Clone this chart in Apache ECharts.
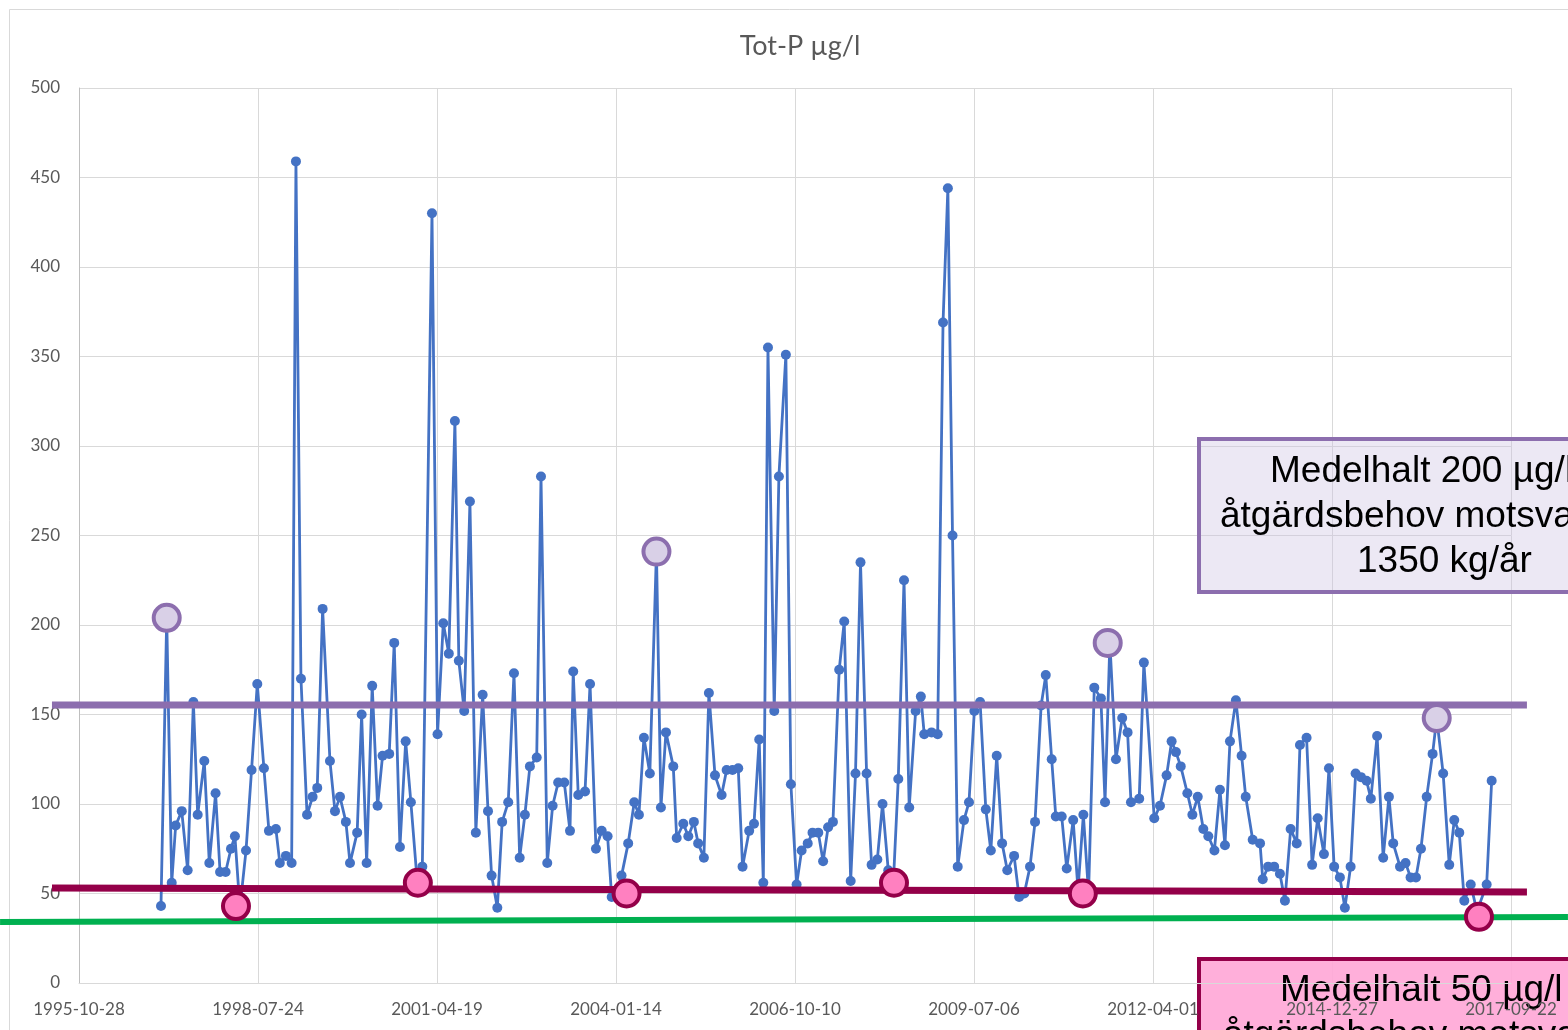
<!DOCTYPE html>
<html>
<head>
<meta charset="utf-8">
<script src="https://cdn.jsdelivr.net/npm/echarts@6/dist/echarts.min.js"></script>
<style>
  html, body { margin: 0; padding: 0; background: #ffffff; }
  #chart { width: 1568px; height: 1030px; }
</style>
</head>
<body>
<div id="chart"></div>
<script>
// ---- Data ----
const chartTitle = 'Tot-P µg/l';
const axisStartDate = '1995-10-28';   // first x tick label
const tickStepDays = 1000;            // distance between x tick labels (days)
const tickCount = 8;                  // number of steps on the x axis

const sampleDates = [
  '1997-01-28','1997-03-01','1997-03-29','1997-04-20','1997-05-24','1997-06-26','1997-07-28','1997-08-21','1997-09-27','1997-10-25','1997-11-29','1997-12-24',
  '1998-01-24','1998-02-23','1998-03-17','1998-04-14','1998-05-18','1998-06-18','1998-07-20','1998-08-26','1998-09-23','1998-11-01','1998-11-23','1998-12-27',
  '1999-01-28','1999-02-21','1999-03-21','1999-04-24','1999-05-25','1999-06-20','1999-07-20','1999-08-30','1999-09-27','1999-10-25','1999-11-27','1999-12-20',
  '2000-01-29','2000-02-23','2000-03-22','2000-04-22','2000-05-22','2000-06-19','2000-07-26','2000-08-23','2000-09-24','2000-10-26','2000-11-24','2000-12-30',
  '2001-01-27','2001-03-22','2001-04-22','2001-05-24','2001-06-24','2001-07-28','2001-08-19','2001-09-18','2001-10-20','2001-11-22','2001-12-30',
  '2002-01-29','2002-02-18','2002-03-22','2002-04-18','2002-05-22','2002-06-23','2002-07-25','2002-08-23','2002-09-20','2002-10-28','2002-11-21','2002-12-26',
  '2003-01-25','2003-02-25','2003-03-31','2003-05-02','2003-05-20','2003-06-17','2003-07-25','2003-08-22','2003-09-24','2003-10-26','2003-11-28','2003-12-21',
  '2004-01-17','2004-02-14','2004-03-22','2004-04-25','2004-05-21','2004-06-18','2004-07-21','2004-08-27','2004-09-21','2004-10-19','2004-11-29','2004-12-18',
  '2005-01-24','2005-02-21','2005-03-24','2005-04-17','2005-05-19','2005-06-16','2005-07-20','2005-08-26','2005-09-23','2005-10-26','2005-11-27','2005-12-21',
  '2006-01-27','2006-02-23','2006-03-24','2006-04-16','2006-05-12','2006-06-16','2006-07-12','2006-08-20','2006-09-17','2006-10-19','2006-11-16','2006-12-20',
  '2007-01-16','2007-02-17','2007-03-16','2007-04-13','2007-05-10','2007-06-14','2007-07-12','2007-08-17','2007-09-13','2007-10-11','2007-11-14','2007-12-12',
  '2008-01-13','2008-02-11','2008-03-14','2008-04-12','2008-05-09','2008-06-10','2008-07-09','2008-08-14','2008-09-12','2008-10-01','2008-11-11','2008-12-15',
  '2009-01-14','2009-02-10','2009-03-08','2009-04-06','2009-05-11','2009-06-08','2009-07-08','2009-08-09','2009-09-10','2009-10-08','2009-11-10','2009-12-10',
  '2010-01-08','2010-02-15','2010-03-15','2010-04-13','2010-05-15','2010-06-12','2010-07-16','2010-08-11','2010-09-13','2010-10-06','2010-11-08','2010-12-06',
  '2011-01-11','2011-02-07','2011-03-09','2011-04-07','2011-05-09','2011-06-15','2011-07-08','2011-08-04','2011-09-07','2011-10-12','2011-11-11','2011-11-30',
  '2012-01-15','2012-02-10','2012-04-08','2012-05-10','2012-06-16','2012-07-14','2012-08-07','2012-09-03','2012-10-10','2012-11-07','2012-12-07',
  '2013-01-07','2013-02-04','2013-03-10','2013-04-10','2013-05-08','2013-06-05','2013-07-08','2013-08-09','2013-09-01','2013-10-10','2013-11-20','2013-12-05',
  '2014-01-04','2014-02-07','2014-03-11','2014-04-08','2014-05-10','2014-06-13','2014-07-01','2014-08-07','2014-09-07','2014-10-08','2014-11-12','2014-12-10',
  '2015-01-08','2015-02-09','2015-03-09','2015-04-10','2015-05-08','2015-06-07','2015-07-08','2015-08-01','2015-09-05','2015-10-09','2015-11-10','2015-12-04',
  '2016-01-11','2016-02-11','2016-03-10','2016-04-09','2016-05-07','2016-06-08','2016-07-11','2016-08-03','2016-09-08','2016-10-12','2016-11-09','2016-12-07',
  '2017-01-04','2017-02-09','2017-03-16','2017-05-09','2017-06-06'
];
const totP = [
  43,204,56,88,96,63,157,94,124,67,106,62,
  62,75,82,42,74,119,167,120,85,86,67,71,
  67,459,170,94,104,109,209,124,96,104,90,67,
  84,150,67,166,99,127,128,190,76,135,101,56,
  65,430,139,201,184,314,180,152,269,84,161,
  96,60,42,90,101,173,70,94,121,126,283,67,
  99,112,112,85,174,105,107,167,75,85,82,48,
  50,60,78,101,94,137,117,241,98,140,121,81,
  89,82,90,78,70,162,116,105,119,119,120,65,
  85,89,136,56,355,152,283,351,111,55,74,78,
  84,84,68,87,90,175,202,57,117,235,117,66,
  69,100,63,57,114,225,98,152,160,139,140,139,
  369,444,250,65,91,101,152,157,97,74,127,78,
  63,71,48,50,65,90,155,172,125,93,93,64,
  91,52,94,50,165,159,101,190,125,148,140,101,
  103,179,92,99,116,135,129,121,106,94,104,
  86,82,74,108,77,135,158,127,104,80,78,58,
  65,65,61,46,86,78,133,137,66,92,72,120,
  65,59,42,65,117,115,113,103,138,70,104,78,
  65,67,59,59,75,104,128,148,117,66,91,84,
  46,55,40,55,113
];

// highlighted samples (circled in the reference)
const highMarkDates = ['1997-03-01','2004-08-27','2011-07-23','2016-08-03'];
const highMarkValues = [204, 241, 190, 148];
const lowMarkDates = ['1998-03-23','2001-01-02','2004-03-13','2008-04-15','2011-03-06','2017-03-27'];
const lowMarkValues = [43, 56, 50, 56, 50, 37];

// drawn reference lines (start/end)
const highLineDates = ['1995-05-30', '2017-12-20'];
const highLineValues = [155.3, 155.3];
const midLineDates = ['1995-05-30', '2017-12-20'];
const midLineValues = [53.1, 50.8];
const lowLineDates = ['1994-08-13', '2018-08-06'];
const lowLineValues = [34.1, 36.9];

// annotation texts
const boxHighLines = ['Medelhalt 200 µg/l', 'åtgärdsbehov motsvarande', '1350 kg/år'];
const boxLowLines = ['Medelhalt 50 µg/l', 'åtgärdsbehov motsvarande'];

// ---- helpers ----
const DAY = 86400000;
const baseMs = Date.parse(axisStartDate + 'T00:00:00Z');
const toDay = s => (Date.parse(s + 'T00:00:00Z') - baseMs) / DAY;
const fmtDay = d => new Date(baseMs + Math.round(d) * DAY).toISOString().slice(0, 10);
const pairs = (ds, vs) => ds.map((d, i) => [toDay(d), vs[i]]);

const labelColor = '#595959';
const gridColor = '#D9D9D9';
const purple = '#8C6EAE';
const crimson = '#940049';
const green = '#00B050';
const fontUI = 'Lato, Carlito, Calibri, sans-serif';
const fontBox = '"Liberation Sans", Arial, sans-serif';
const boxFont = '37px ' + fontBox;

const chart = echarts.init(document.getElementById('chart'), null, { renderer: 'canvas' });

chart.setOption({
  animation: false,
  backgroundColor: '#ffffff',
  title: {
    text: chartTitle,
    left: 795,
    top: 28,
    textAlign: 'center',
    textStyle: { fontFamily: fontUI, fontSize: 27, fontWeight: 'normal', color: labelColor }
  },
  grid: { left: 79, right: 57, top: 88, bottom: 47, containLabel: false },
  xAxis: {
    type: 'value',
    min: 0,
    max: tickStepDays * tickCount,
    interval: tickStepDays,
    axisLine: { show: true, lineStyle: { color: gridColor, width: 1 } },
    axisTick: { show: false },
    splitLine: { show: true, lineStyle: { color: gridColor, width: 1 } },
    axisLabel: {
      formatter: v => fmtDay(v),
      color: labelColor, fontFamily: fontUI, fontSize: 17, margin: 18,
      showMinLabel: true, showMaxLabel: true
    }
  },
  yAxis: {
    type: 'value',
    min: 0, max: 500, interval: 50,
    axisLine: { show: true, lineStyle: { color: '#BFBFBF', width: 1 } },
    axisTick: { show: false },
    splitLine: { show: true, lineStyle: { color: gridColor, width: 1 } },
    axisLabel: { color: labelColor, fontFamily: fontUI, fontSize: 17, margin: 19 }
  },
  series: [
    {
      name: 'Tot-P',
      type: 'line',
      data: pairs(sampleDates, totP),
      symbol: 'circle',
      symbolSize: 10,
      showAllSymbol: true,
      lineStyle: { color: '#4472C4', width: 2.8 },
      itemStyle: { color: '#4472C4', opacity: 1 },
      z: 2
    },
    {
      name: 'highMarks',
      type: 'scatter',
      data: pairs(highMarkDates, highMarkValues),
      symbol: 'circle',
      symbolSize: 26,
      itemStyle: { color: '#D9D0E7', borderColor: purple, borderWidth: 4, opacity: 1 },
      z: 5
    },
    {
      name: 'lowMarks',
      type: 'scatter',
      data: pairs(lowMarkDates, lowMarkValues),
      symbol: 'circle',
      symbolSize: 26,
      itemStyle: { color: '#FF80C0', borderColor: crimson, borderWidth: 4, opacity: 1 },
      z: 5
    }
  ]
});

// Reference lines drawn through the chart's own coordinate system (they extend past the plot area)
const toPx = (ds, vs) => pairs(ds, vs).map(p => chart.convertToPixel({ gridIndex: 0 }, p));
const refLine = (ds, vs, color, w) => ({
  type: 'polyline', silent: true, z: 3,
  shape: { points: toPx(ds, vs) },
  style: { stroke: color, lineWidth: w, fill: null }
});

chart.setOption({
  graphic: [
    {
      type: 'rect', z: 0, silent: true,
      shape: { x: 9.5, y: 9.5, width: 1700, height: 1200 },
      style: { fill: 'none', stroke: '#D9D9D9', lineWidth: 1 }
    },
    refLine(highLineDates, highLineValues, purple, 7),
    refLine(midLineDates, midLineValues, crimson, 7),
    refLine(lowLineDates, lowLineValues, green, 6),
    {
      type: 'group', z: 100, silent: true,
      children: [
        {
          type: 'rect',
          shape: { x: 1199, y: 439, width: 520, height: 153 },
          style: { fill: 'rgba(205,195,225,0.38)', stroke: purple, lineWidth: 4 }
        },
        { type: 'text', x: 1270, y: 472, style: { text: boxHighLines[0], font: boxFont, fill: '#000', textVerticalAlign: 'middle', textAlign: 'left' } },
        { type: 'text', x: 1220, y: 517, style: { text: boxHighLines[1], font: boxFont, fill: '#000', textVerticalAlign: 'middle', textAlign: 'left' } },
        { type: 'text', x: 1357, y: 562, style: { text: boxHighLines[2], font: boxFont, fill: '#000', textVerticalAlign: 'middle', textAlign: 'left' } },
        {
          type: 'rect',
          shape: { x: 1199, y: 959, width: 520, height: 160 },
          style: { fill: 'rgba(255,168,215,0.92)', stroke: crimson, lineWidth: 4 }
        },
        { type: 'text', x: 1280, y: 991, style: { text: boxLowLines[0], font: boxFont, fill: '#000', textVerticalAlign: 'middle', textAlign: 'left' } },
        { type: 'text', x: 1223, y: 1036, style: { text: boxLowLines[1], font: boxFont, fill: '#000', textVerticalAlign: 'middle', textAlign: 'left' } }
      ]
    }
  ]
});
</script>
</body>
</html>
